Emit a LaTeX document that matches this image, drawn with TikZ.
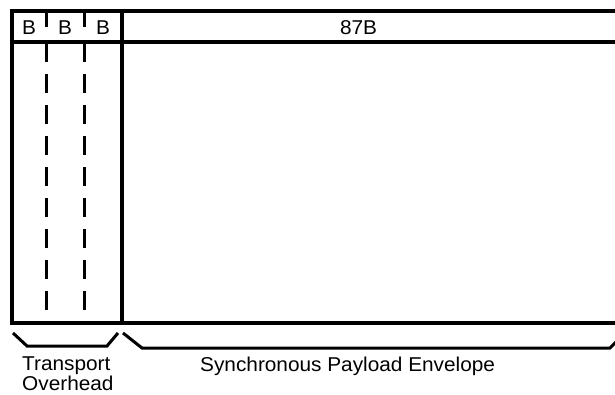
\documentclass[tikz,border=0pt]{standalone}
\usepackage{fontspec}
\setmainfont[FakeStretch=1.04]{Liberation Sans}
\begin{document}
\begin{tikzpicture}[x=1pt,y=-1pt,line join=miter,
  frame/.style={line width=3.2pt},
  hline/.style={line width=4pt},
  sepdash/.style={line width=3pt,dash pattern=on 19pt off 12pt},
  sepbar/.style={line width=3pt},
  brace/.style={line width=3pt},
  lbl/.style={font=\fontsize{20}{20}\selectfont,inner sep=0pt,anchor=base west},
  hdr/.style={font=\fontsize{20}{20}\selectfont,inner sep=0pt,anchor=base}]
\useasboundingbox (0,0) rectangle (615,395);
% frame
\draw[frame] (630,11) -- (12,11) -- (12,323) -- (630,323);
\draw[hline] (12,42) -- (630,42);
\draw[frame] (122,11) -- (122,323);
% header separators
\draw[sepbar] (46,11) -- (46,27);
\draw[sepbar] (84,11) -- (84,27);
% dashed column separators
\draw[sepdash] (46,43) -- (46,323);
\draw[sepdash] (84,43) -- (84,323);
% header texts
\node[hdr] (b1) at (29,35) {B};
\node[hdr] (b2) at (65,35) {B};
\node[hdr] (b3) at (103,35) {B};
\node[hdr] (pay) at (358.5,35) {87B};
% braces
\draw[brace] (13,333) -- (27,346) -- (107,346) -- (118,333);
\draw[brace] (123,333) -- (142,348) -- (610,348) -- (624,334);
% labels
\node[lbl] (tr) at (22,370) {Transport};
\node[lbl] (ov) at (22,390) {Overhead};
\node[lbl] (spe) at (200,371) {Synchronous Payload Envelope};
\end{tikzpicture}
\end{document}
